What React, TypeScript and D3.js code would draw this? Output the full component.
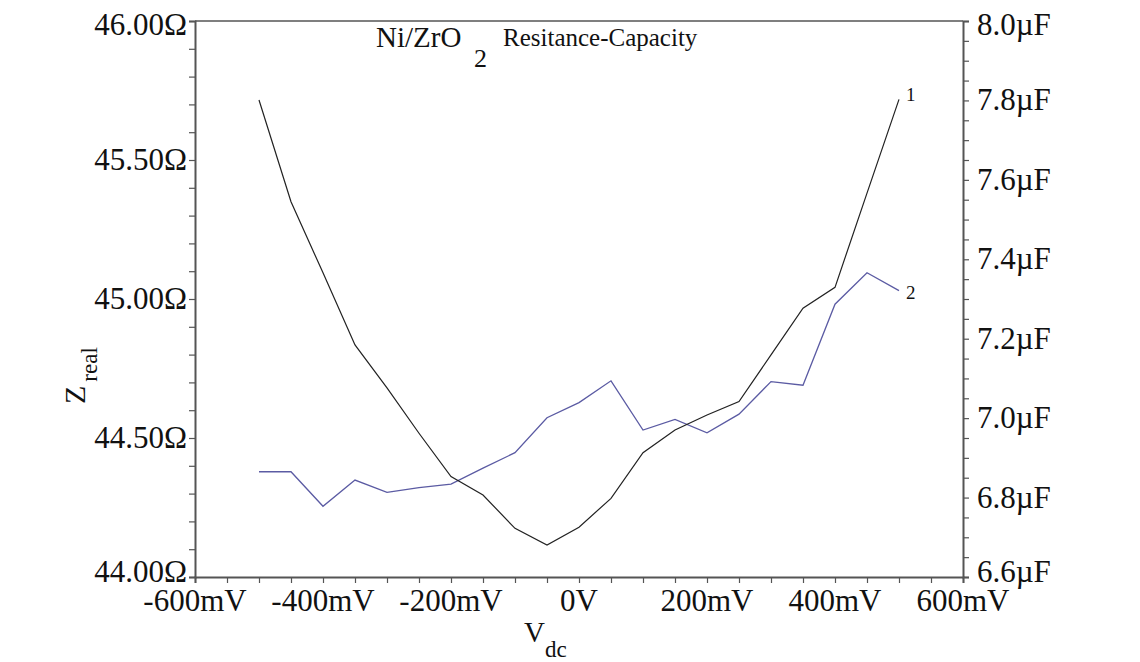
import { useEffect, useRef } from 'react';
import * as d3 from 'd3';

// Bias voltage (mV)
const voltages = [
  -500, -450, -400, -350, -300, -250, -200, -150, -100, -50, 0,
  50, 100, 150, 200, 250, 300, 350, 400, 450, 500,
];

// Curve 1: real impedance (Ohm), left axis
const zReal = [
  45.716, 45.35, 45.094, 44.835, 44.68, 44.517, 44.361, 44.295, 44.175, 44.115, 44.179,
  44.283, 44.447, 44.529, 44.583, 44.631, 44.799, 44.967, 45.042, 45.381, 45.718,
];

// Curve 2: capacitance (uF), right axis
const capacity = [
  6.865, 6.865, 6.778, 6.844, 6.813, 6.825, 6.834, 6.874, 6.913, 7.001, 7.039,
  7.094, 6.97, 6.997, 6.963, 7.01, 7.092, 7.083, 7.287, 7.366, 7.321,
];

const xMajor = [-600, -400, -200, 0, 200, 400, 600];
const leftMajor = [44, 44.5, 45, 45.5, 46];
const rightMajor = [6.6, 6.8, 7.0, 7.2, 7.4, 7.6, 7.8, 8.0];

const W = 1140;
const H = 662;
const FONT = '"Liberation Serif", "Times New Roman", serif';

export default function App() {
  const svgRef = useRef<SVGSVGElement>(null);

  useEffect(() => {
    if (!svgRef.current) return;
    const svg = d3.select(svgRef.current);
    svg.selectAll('*').remove();

    const left = 195;
    const right = 963;
    const top = 21;
    const bottom = 577;

    const x = d3.scaleLinear().domain([-600, 600]).range([left, right]);
    const yL = d3.scaleLinear().domain([44, 46]).range([bottom, top]);
    const yR = d3.scaleLinear().domain([6.6, 8.0]).range([bottom, top]);

    const axisColor = '#555';

    // frame top line
    svg.append('line')
      .attr('x1', left).attr('x2', right)
      .attr('y1', top).attr('y2', top)
      .attr('stroke', axisColor).attr('stroke-width', 1.5);

    // --- bottom axis ---
    const xMinor = d3.range(-600, 601, 50);
    const gx = svg.append('g').attr('transform', `translate(0,${bottom})`);
    gx.call(d3.axisBottom(x).tickValues(xMinor).tickSize(6).tickFormat(() => ''));
    gx.select('.domain').attr('stroke', axisColor).attr('stroke-width', 2);
    gx.selectAll('.tick line').attr('stroke', axisColor).attr('stroke-width', 1.2);
    gx.selectAll('.major')
      .data(xMajor)
      .enter()
      .append('text')
      .attr('x', (d) => x(d))
      .attr('y', 34)
      .attr('text-anchor', 'middle')
      .attr('font-family', FONT)
      .attr('font-size', 31)
      .attr('fill', '#111')
      .text((d) => (d === 0 ? '0V' : `${d}mV`));

    // --- left axis ---
    const leftMinor = d3.range(0, 21).map((i) => 44 + i * 0.1);
    const gl = svg.append('g').attr('transform', `translate(${left},0)`);
    gl.call(d3.axisLeft(yL).tickValues(leftMinor).tickSize(6).tickFormat(() => ''));
    gl.select('.domain').attr('stroke', axisColor).attr('stroke-width', 2);
    gl.selectAll('.tick line').attr('stroke', axisColor).attr('stroke-width', 1.2);
    gl.selectAll('.major')
      .data(leftMajor)
      .enter()
      .append('text')
      .attr('x', -8)
      .attr('y', (d) => yL(d) + (d === 46 ? 14 : d === 44 ? 5 : 10))
      .attr('text-anchor', 'end')
      .attr('font-family', FONT)
      .attr('font-size', 31)
      .attr('fill', '#111')
      .text((d) => `${d.toFixed(2)}\u03A9`);

    // --- right axis ---
    const rightMinor = d3.range(0, 29).map((i) => 6.6 + i * 0.05);
    const gr = svg.append('g').attr('transform', `translate(${right},0)`);
    gr.call(d3.axisRight(yR).tickValues(rightMinor).tickSize(6).tickFormat(() => ''));
    gr.select('.domain').attr('stroke', axisColor).attr('stroke-width', 2);
    gr.selectAll('.tick line').attr('stroke', axisColor).attr('stroke-width', 1.2);
    gr.selectAll('.major')
      .data(rightMajor)
      .enter()
      .append('text')
      .attr('x', 14)
      .attr('y', (d) => yR(d) + (d === 8.0 ? 14 : Math.abs(d - 6.6) < 1e-9 ? 5 : 10))
      .attr('text-anchor', 'start')
      .attr('font-family', FONT)
      .attr('font-size', 31)
      .attr('fill', '#111')
      .text((d) => `${d.toFixed(1)}\u00B5F`);

    // --- curves ---
    const lineL = d3.line<number>()
      .x((_, i) => x(voltages[i]))
      .y((d) => yL(d));
    const lineR = d3.line<number>()
      .x((_, i) => x(voltages[i]))
      .y((d) => yR(d));

    svg.append('path')
      .datum(capacity)
      .attr('d', lineR)
      .attr('fill', 'none')
      .attr('stroke', '#5b5ba3')
      .attr('stroke-width', 1.3);

    svg.append('path')
      .datum(zReal)
      .attr('d', lineL)
      .attr('fill', 'none')
      .attr('stroke', '#222')
      .attr('stroke-width', 1.2);

    // curve labels
    const last = voltages.length - 1;
    svg.append('text')
      .attr('x', x(voltages[last]) + 7)
      .attr('y', yL(zReal[last]) + 2)
      .attr('font-family', FONT)
      .attr('font-size', 19)
      .attr('fill', '#111')
      .text('1');
    svg.append('text')
      .attr('x', x(voltages[last]) + 7)
      .attr('y', yR(capacity[last]) + 8)
      .attr('font-family', FONT)
      .attr('font-size', 19)
      .attr('fill', '#111')
      .text('2');

    // --- title ---
    svg.append('text')
      .attr('x', 376)
      .attr('y', 47)
      .attr('font-family', FONT)
      .attr('font-size', 29)
      .attr('fill', '#111')
      .text('Ni/ZrO');
    svg.append('text')
      .attr('x', 474)
      .attr('y', 67)
      .attr('font-family', FONT)
      .attr('font-size', 26)
      .attr('fill', '#111')
      .text('2');
    svg.append('text')
      .attr('x', 503)
      .attr('y', 46)
      .attr('font-family', FONT)
      .attr('font-size', 25)
      .attr('fill', '#111')
      .text('Resitance-Capacity');

    // --- axis titles ---
    const xt = svg.append('text')
      .attr('x', 524)
      .attr('y', 642)
      .attr('font-family', FONT)
      .attr('fill', '#111');
    xt.append('tspan').attr('font-size', 29).text('V');
    xt.append('tspan').attr('font-size', 23).attr('dy', 15).text('dc');

    const yt = svg.append('text')
      .attr('transform', 'translate(85,404) rotate(-90)')
      .attr('font-family', FONT)
      .attr('fill', '#111');
    yt.append('tspan').attr('font-size', 30).text('Z');
    yt.append('tspan').attr('font-size', 23).attr('dy', 12).attr('dx', 4).text('real');
  }, []);

  return (
    <svg
      ref={svgRef}
      width={W}
      height={H}
      style={{ position: 'absolute', left: 0, top: 0, background: '#fff' }}
    />
  );
}
